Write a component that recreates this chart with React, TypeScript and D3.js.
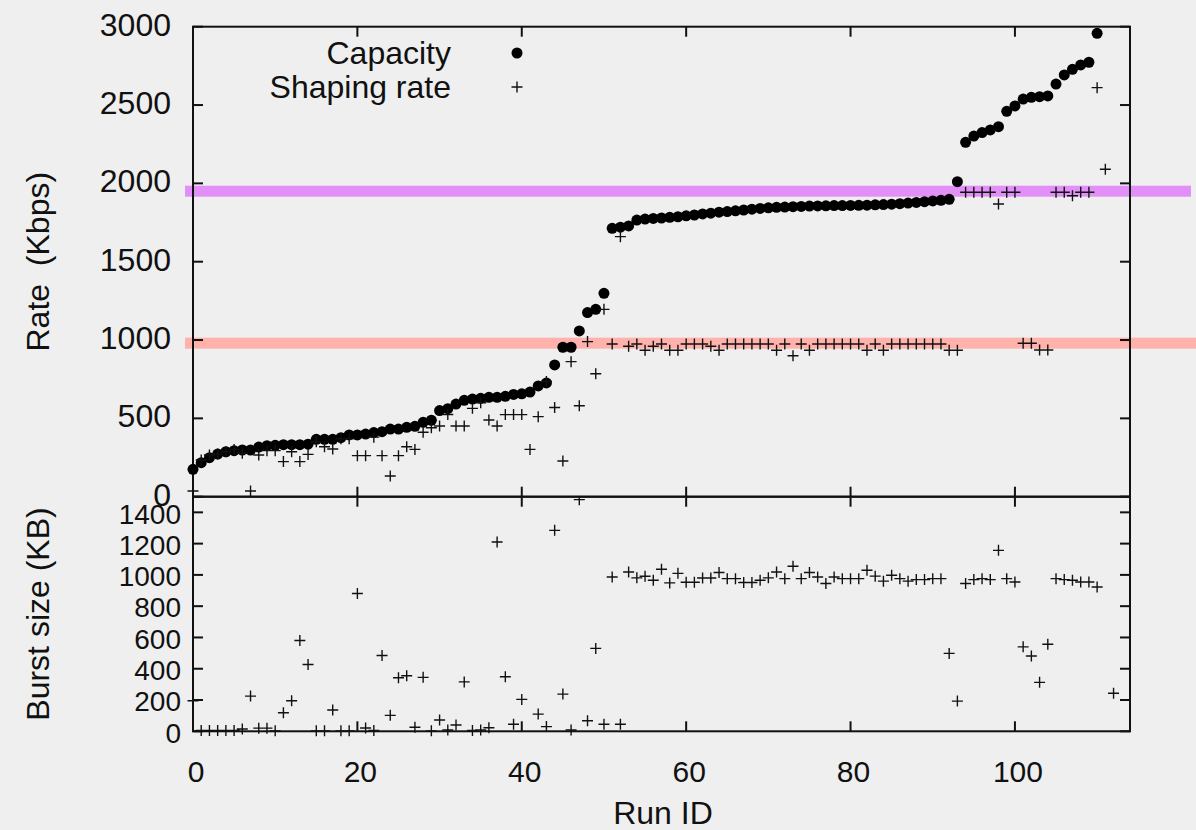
import React from "react";
import * as d3 from "d3";

// ---- data ----
const capacity: number[] = [
  175, 217, 249, 272, 287, 294, 298, 298, 317, 326,
  328, 332, 332, 332, 335, 366, 366, 366, 377, 394,
  394, 400, 409, 415, 432, 432, 443, 449, 475, 488,
  550, 562, 591, 615, 623, 628, 634, 634, 641, 653,
  657, 668, 707, 726, 841, 954, 954, 1058, 1175, 1196,
  1298, 1713, 1720, 1728, 1766, 1772, 1776, 1779, 1783, 1787,
  1793, 1798, 1805, 1810, 1816, 1820, 1825, 1830, 1835, 1840,
  1844, 1847, 1849, 1851, 1853, 1855, 1856, 1857, 1858, 1858,
  1859, 1860, 1861, 1863, 1865, 1867, 1870, 1874, 1878, 1883,
  1888, 1892, 1898, 2011, 2262, 2302, 2324, 2341, 2362, 2460,
  2494, 2538, 2549, 2553, 2558, 2634, 2692, 2728, 2756, 2773,
  2958,
];

const shapingRate: number[] = [
  36, 234, 266, 272, 287, 302, 277, 36, 266, 294,
  294, 224, 287, 224, 270, 350, 319, 304, 370, 370,
  262, 262, 380, 262, 132, 262, 319, 302, 411, 440,
  451, 525, 451, 451, 564, 600, 490, 451, 524, 524,
  524, 302, 511, 735, 569, 228, 862, 581, 990, 785,
  1196, 975, 1660, 960, 975, 935, 960, 975, 935, 935,
  975, 975, 975, 960, 935, 975, 975, 975, 975, 975,
  975, 935, 975, 900, 975, 935, 975, 975, 975, 975,
  975, 975, 935, 975, 935, 975, 975, 975, 975, 975,
  975, 975, 935, 935, 1943, 1943, 1943, 1943, 1868, 1943,
  1943, 979, 979, 936, 936, 1943, 1943, 1921, 1943, 1943,
  2611, 2090,
];

const burstSize: (number | null)[] = [
  195, 5, 5, 5, 5, 5, 15, 225, 20, 20,
  3, 119, 195, 581, 427, 3, 3, 136, 3, 3,
  881, 21, 5, 485, 102, 342, 355, 26, 345, 3,
  72, 8, 40, 316, 5, 8, 23, 1210, 349, 45,
  204, null, 110, 30, 1285, 238, 8, 1481, 67, 530,
  45, 987, 45, 1019, 981, 991, 966, 1036, 949, 1010,
  953, 953, 980, 980, 1015, 976, 976, 951, 951, 966,
  981, 1019, 976, 1055, 976, 1015, 987, 945, 987, 976,
  976, 976, 1030, 992, 960, 998, 976, 960, 970, 970,
  976, 976, 498, 193, 945, 970, 976, 970, 1157, 976,
  955, 540, 481, 313, 557, 976, 970, 966, 955, 955,
  923, null, 243,
];

const referenceRates = [980, 1950];
const referenceColors = ["#ffb2ac", "#e290f8"];
const referenceEnds = [1196, 1191];

const rateTicks = [0, 500, 1000, 1500, 2000, 2500, 3000];
const burstTicks = [0, 200, 400, 600, 800, 1000, 1200, 1400];
const runTicks = [0, 20, 40, 60, 80, 100];

const legendLabels = ["Capacity", "Shaping rate"];

// ---- layout ----
const W = 1196;
const H = 830;
const left = 193;
const right = 1130;
const topY = 26.7;
const midY = 496.7;
const botY = 731.3;
const tickLen = 10;

export default function App() {
  const x = d3.scaleLinear().domain([0, 114]).range([left, right]);
  const yRate = d3.scaleLinear().domain([0, 3000]).range([midY, topY]);
  const yBurst = d3.scaleLinear().domain([0, 1500]).range([botY, midY]);

  const plus = (cx: number, cy: number, s = 5.5) =>
    `M${cx - s},${cy}H${cx + s}M${cx},${cy - s}V${cy + s}`;

  const font = "'Liberation Sans', Arial, Helvetica, sans-serif";
  const ink = "#111";

  return (
    <svg
      width={W}
      height={H}
      style={{ position: "absolute", left: 0, top: 0, background: "#efefef" }}
      fontFamily={font}
    >
      <rect x={0} y={0} width={W} height={H} fill="#efefef" />
      <defs>
        <clipPath id="clipTop">
          <rect x={left - 8} y={topY - 8} width={right - left + 16} height={midY - topY + 8} />
        </clipPath>
        <clipPath id="clipBot">
          <rect x={left - 8} y={midY} width={right - left + 16} height={botY - midY + 8} />
        </clipPath>
      </defs>

      {/* reference bands */}
      {referenceRates.map((r, i) => (
        <rect
          key={"band" + i}
          x={185}
          y={yRate(r) - 5.5}
          width={referenceEnds[i] - 185}
          height={11}
          fill={referenceColors[i]}
        />
      ))}

      {/* frames */}
      <g fill="none" stroke={ink} strokeWidth={2}>
        <rect x={left} y={topY} width={right - left} height={midY - topY} />
        <rect x={left} y={midY} width={right - left} height={botY - midY} />
      </g>

      {/* ticks */}
      <g stroke={ink} strokeWidth={2}>
        {rateTicks.map((t) => (
          <g key={"rt" + t}>
            <line x1={left} x2={left + tickLen} y1={yRate(t)} y2={yRate(t)} />
            <line x1={right} x2={right - tickLen} y1={yRate(t)} y2={yRate(t)} />
          </g>
        ))}
        {burstTicks.map((t) => (
          <g key={"bt" + t}>
            <line x1={left} x2={left + tickLen} y1={yBurst(t)} y2={yBurst(t)} />
            <line x1={right} x2={right - tickLen} y1={yBurst(t)} y2={yBurst(t)} />
          </g>
        ))}
        {runTicks.map((t) => (
          <g key={"xt" + t}>
            <line x1={x(t)} x2={x(t)} y1={topY} y2={topY + tickLen} />
            <line x1={x(t)} x2={x(t)} y1={midY} y2={midY - tickLen} />
            <line x1={x(t)} x2={x(t)} y1={midY} y2={midY + tickLen} />
            <line x1={x(t)} x2={x(t)} y1={botY} y2={botY - tickLen} />
          </g>
        ))}
      </g>

      {/* tick labels */}
      <g fill={ink} fontSize={32}>
        {rateTicks.map((t) => (
          <text key={"rl" + t} x={171} y={yRate(t)} dy="0.28em" textAnchor="end">
            {t}
          </text>
        ))}
      </g>
      <g fill={ink} fontSize={28}>
        {burstTicks.map((t) => (
          <text key={"bl" + t} x={181} y={yBurst(t)} dy="0.4em" textAnchor="end">
            {t}
          </text>
        ))}
      </g>
      <g fill={ink} fontSize={30}>
        {runTicks.map((t) => (
          <text key={"xl" + t} x={x(t) + 3} y={782} textAnchor="middle">
            {t}
          </text>
        ))}
      </g>

      {/* axis titles */}
      <text x={663} y={824} textAnchor="middle" fontSize={32} fill={ink}>
        Run ID
      </text>
      <text
        transform={`translate(49,${yRate(1500)}) rotate(-90)`}
        textAnchor="middle"
        fontSize={32}
        fill={ink}
        style={{ whiteSpace: "pre" }}
      >
        {"Rate  (Kbps)"}
      </text>
      <text
        transform={`translate(49,${yBurst(750)}) rotate(-90)`}
        textAnchor="middle"
        fontSize={32}
        fill={ink}
        style={{ whiteSpace: "pre" }}
      >
        {"Burst size (KB)"}
      </text>

      {/* capacity + shaping points */}
      <g clipPath="url(#clipTop)">
        {capacity.map((v, i) => (
          <circle key={"c" + i} cx={x(i)} cy={yRate(v)} r={5.5} fill="#000" />
        ))}
        <path
          d={shapingRate.map((v, i) => plus(x(i), yRate(v))).join("")}
          stroke={ink}
          strokeWidth={1.4}
          fill="none"
        />
      </g>

      {/* burst points */}
      <g clipPath="url(#clipBot)">
        <path
          d={burstSize
            .map((v, i) => (v == null ? "" : plus(x(i), yBurst(v))))
            .join("")}
          stroke={ink}
          strokeWidth={1.4}
          fill="none"
        />
      </g>

      {/* legend */}
      <g fill={ink} fontSize={32}>
        <text x={451} y={64} textAnchor="end">
          {legendLabels[0]}
        </text>
        <text x={451} y={98} textAnchor="end">
          {legendLabels[1]}
        </text>
      </g>
      <circle cx={517} cy={53} r={5.5} fill="#000" />
      <path d={plus(517, 87)} stroke={ink} strokeWidth={1.4} fill="none" />
    </svg>
  );
}
